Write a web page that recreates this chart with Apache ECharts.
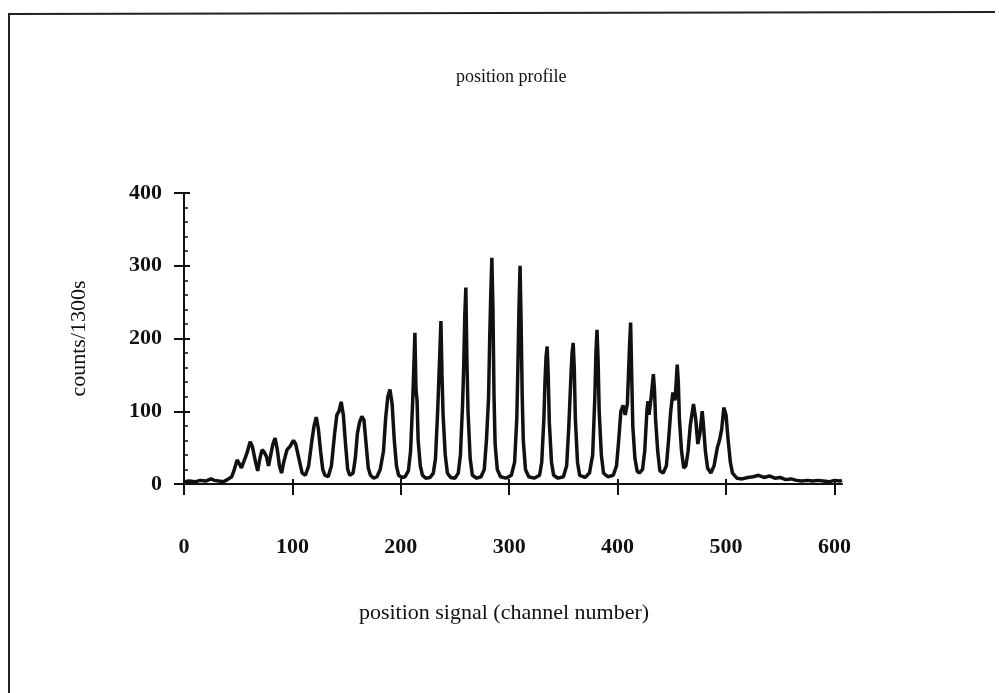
<!DOCTYPE html>
<html>
<head>
<meta charset="utf-8">
<title>position profile</title>
<script src="https://cdn.jsdelivr.net/npm/echarts@6/dist/echarts.min.js"></script>
<style>
  html, body { margin: 0; padding: 0; background: #fff; }
  #chart { width: 999px; height: 693px; }
</style>
</head>
<body>
<div id="chart"></div>
<script>
// channel numbers and counts
const channels = [
  0, 5, 10, 15, 20, 25, 28, 32, 36, 40, 44, 46,
  49, 51, 53, 55, 58, 61, 63, 66, 68, 70, 72, 74, 76, 78, 80, 82, 84, 86, 88, 90,
  92, 95, 98, 101, 103, 106, 109, 112, 115, 118, 120, 122, 124, 126, 128, 130,
  133, 136, 139, 141, 143, 145, 147, 149, 151, 153, 156, 158, 160, 162, 164, 166,
  168, 170, 172, 175, 178, 181, 184, 186, 188, 190, 192, 194, 196, 198, 201, 204,
  207, 209, 211, 212, 213, 214, 215, 216, 218, 220, 223, 227, 230, 232, 234, 235,
  236, 237, 238, 239, 241, 243, 246, 250, 253, 255, 257, 258, 259, 260, 261, 262,
  264, 266, 270, 274, 277, 279, 281, 282, 283, 284, 285, 286, 287, 289, 292, 297,
  302, 305, 307, 308, 309, 310, 311, 312, 313, 315, 318, 323, 328, 330, 332, 333,
  334, 335, 336, 337, 339, 341, 345, 350, 353, 355, 357, 358, 359, 360, 361, 363,
  365, 370, 374, 377, 379, 380, 381, 382, 383, 385, 387, 391, 396, 399, 401, 403,
  405, 407, 409, 411, 412, 413, 414, 416, 418, 420, 423, 425, 427, 428, 429, 431,
  433, 434, 435, 437, 439, 442, 445, 447, 449, 451, 453, 455, 456, 457, 459, 461,
  463, 465, 467, 469, 470, 472, 474, 476, 478, 479, 481, 483, 486, 489, 492, 494,
  496, 498, 500, 502, 504, 506, 510, 515, 520, 525, 530, 535, 540, 545, 550, 555,
  560, 565, 570, 575, 580, 585, 590, 595, 600, 605, 607
];
const counts = [
  3, 4, 3, 5, 4, 7, 5, 4, 3, 6, 10, 18,
  33, 28, 22, 30, 42, 58, 52, 30, 18, 35, 47, 44, 38, 25, 40, 55, 63, 48, 25, 15,
  30, 47, 52, 60, 55, 35, 15, 12, 25, 60, 80, 92, 75, 45, 20, 12,
  10, 25, 70, 95, 100, 113, 95, 55, 20, 12, 15, 35, 70, 85, 93, 88,
  55, 22, 12, 8, 10, 20, 45, 90, 120, 130, 110, 60, 25, 12, 9, 10,
  18, 45, 115, 160, 208, 130, 115, 60, 25, 12, 8, 9, 15, 35, 100, 140,
  180, 224, 150, 95, 40, 15, 9, 8, 15, 40, 110, 160, 230, 270, 170, 100,
  35, 12, 8, 10, 20, 60, 120, 200, 260, 311, 240, 120, 55, 20, 10, 8,
  12, 30, 90, 160, 240, 300, 220, 120, 60, 20, 10, 8, 12, 30, 90, 140,
  175, 189, 150, 85, 30, 12, 8, 10, 25, 80, 150, 180, 194, 160, 90, 30,
  12, 9, 15, 40, 120, 180, 212, 170, 100, 40, 15, 10, 12, 25, 60, 100,
  108, 95, 110, 190, 222, 150, 80, 35, 18, 15, 20, 45, 100, 114, 95, 120,
  151, 130, 90, 45, 18, 15, 25, 60, 100, 126, 115, 164, 140, 90, 45, 22,
  25, 45, 80, 100, 110, 90, 55, 70, 100, 85, 45, 22, 15, 25, 50, 60,
  75, 105, 95, 60, 30, 15, 8, 7, 9, 10, 12, 9, 11, 8, 9, 6,
  7, 5, 4, 5, 4, 5, 4, 3, 5, 4, 5
];
const xTicks = [0, 100, 200, 300, 400, 500, 600];

const points = channels.map((c, i) => [c, counts[i]]);

const ink = '#111';
const serif = '"Liberation Serif", "DejaVu Serif", serif';
const chart = echarts.init(document.getElementById('chart'));

const labelStyle = { color: ink, fontFamily: serif, fontSize: 22, fontWeight: 'bold' };
const nameStyle = { color: ink, fontFamily: serif, fontSize: 22 };

chart.setOption({
  animation: false,
  backgroundColor: '#fff',
  title: {
    text: 'position profile',
    left: 451,
    top: 63,
    textStyle: { color: ink, fontFamily: serif, fontSize: 18, fontWeight: 'normal' }
  },
  grid: { left: 184, right: 157, top: 193, bottom: 209 },
  xAxis: [
    {
      type: 'value', min: 0, max: 607,
      name: 'position signal (channel number)',
      nameLocation: 'middle', nameGap: 118,
      nameTextStyle: { ...nameStyle, padding: [0, 18, 0, 0] },
      axisLine: { show: true, onZero: false, lineStyle: { color: ink, width: 2 } },
      axisTick: { show: true, customValues: xTicks, length: 11, lineStyle: { color: ink, width: 2 } },
      axisLabel: { customValues: xTicks, margin: 52, ...labelStyle },
      splitLine: { show: false }
    },
    {
      // short inward half of the crossing ticks
      type: 'value', min: 0, max: 607, position: 'bottom',
      axisLine: { show: false },
      axisTick: { show: true, inside: true, customValues: xTicks, length: 5, lineStyle: { color: ink, width: 2 } },
      axisLabel: { show: false },
      splitLine: { show: false }
    }
  ],
  yAxis: [
    {
      type: 'value', min: 0, max: 400, interval: 100,
      name: 'counts/1300s',
      nameLocation: 'middle', nameRotate: 90, nameGap: 94, nameTextStyle: nameStyle,
      axisLine: { show: true, onZero: false, lineStyle: { color: ink, width: 2 } },
      axisTick: { show: true, length: 10, lineStyle: { color: ink, width: 2 } },
      axisLabel: { margin: 22, ...labelStyle },
      splitLine: { show: false }
    },
    {
      // inward major + minor ticks
      type: 'value', min: 0, max: 400, interval: 100, position: 'left',
      axisLine: { show: false },
      axisTick: { show: true, inside: true, length: 6, lineStyle: { color: ink, width: 2 } },
      minorTick: { show: true, splitNumber: 5, length: 4, lineStyle: { color: ink, width: 1.5 } },
      axisLabel: { show: false },
      splitLine: { show: false }
    }
  ],
  series: [
    {
      type: 'line',
      data: points,
      showSymbol: false,
      clip: false,
      lineStyle: { color: ink, width: 3.5 }
    }
  ],
  graphic: [
    {
      // page frame from the scan
      type: 'polyline',
      shape: { points: [[9, 693], [9, 14], [995, 12]] },
      style: { stroke: '#222', lineWidth: 2, fill: null }
    }
  ]
});

window.addEventListener('resize', () => chart.resize());
</script>
</body>
</html>
